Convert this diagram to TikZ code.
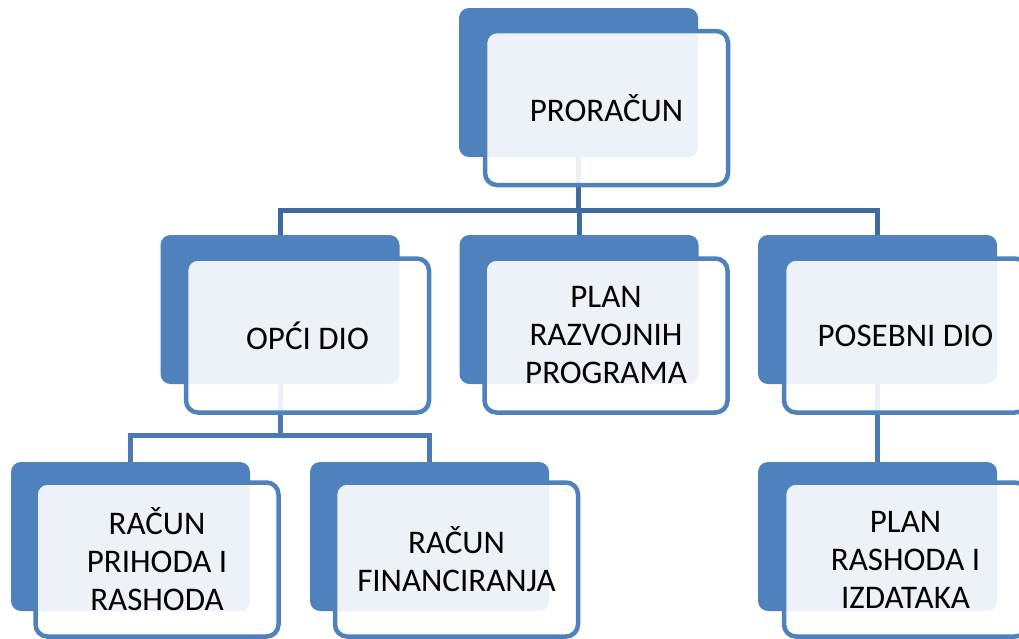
\documentclass[tikz,border=0pt]{standalone}
\usepackage{fontspec}
\setmainfont{Carlito}
\definecolor{boxblue}{HTML}{4F81BD}
\definecolor{lineA}{HTML}{3F6A9E}
\definecolor{lineB}{HTML}{4A79B6}
\newcommand{\boxtext}[4]{%
  \begin{scope}
    \clip (#2.north west) rectangle (#2.east |- #3.south);
    \node[boxlabel] (#1) at (#2) {#4};
  \end{scope}}
\begin{document}
\begin{tikzpicture}[x=1pt,y=-1pt,
  backbox/.style={draw=none, fill=boxblue, rounded corners=10pt, minimum width=239pt, minimum height=149pt, inner sep=0pt, outer sep=0pt},
  frontbox/.style={draw=boxblue, line width=4.5pt, fill=white, fill opacity=0.9, rounded corners=12pt, minimum width=243pt, minimum height=154pt, inner sep=0pt, outer sep=0pt},
  boxlabel/.style={font=\fontsize{33}{38}\selectfont, align=center, text=black, inner sep=0pt},
  connA/.style={draw=lineA, line width=5pt},
  connB/.style={draw=lineB, line width=5pt}]
\useasboundingbox (0,0) rectangle (1019,638);
\clip (0,0) rectangle (1019,638);

% back boxes (positions only, drawn after connectors)
\path (578.5,82.5) node[backbox, fill=none] (b1) {};
\path (280,309.5) node[backbox, fill=none] (b2) {};
\path (579,309.5) node[backbox, fill=none] (b3) {};
\path (877.5,309.5) node[backbox, fill=none] (b4) {};
\path (130.5,536.5) node[backbox, fill=none] (b5) {};
\path (429.5,536.5) node[backbox, fill=none] (b6) {};
\path (877.5,536.5) node[backbox, fill=none] (b7) {};

% connectors
\coordinate (j1) at (578.5,210);
\coordinate (j2) at (280,435);
\draw[connA] (b1.south) -- (j1);
\draw[connA] (b2.north) |- (j1);
\draw[connA] (b4.north) |- (j1);
\draw[connA] (b3.north) -- (b3.north |- j1);
\draw[connB] (b2.south) -- (j2);
\draw[connB] (b5.north) |- (j2);
\draw[connB] (b6.north) |- (j2);
\draw[connB] (b4.south) -- (b7.north);

% back boxes filled
\foreach \n in {b1,b2,b3,b4,b5,b6,b7}{
  \fill[boxblue, rounded corners=10pt] (\n.north west) rectangle (\n.south east);
}

% front boxes
\node[frontbox] (f1) at (606.5,108) {};
\node[frontbox] (f2) at (307.5,335.5) {};
\node[frontbox] (f3) at (606,335.5) {};
\node[frontbox] (f4) at (905.5,335.5) {};
\node[frontbox] (f5) at (157,559.5) {};
\node[frontbox] (f6) at (456.5,559.5) {};
\node[frontbox] (f7) at (905.5,559.5) {};

% texts
\boxtext{t1}{f1}{b1}{PRORAČUN}
\boxtext{t2}{f2}{b2}{OPĆI DIO}
\boxtext{t3}{f3}{b3}{PLAN\\RAZVOJNIH\\PROGRAMA}
\boxtext{t4}{f4}{b4}{POSEBNI DIO}
\boxtext{t5}{f5}{b5}{RAČUN\\PRIHODA I\\RASHODA}
\boxtext{t6}{f6}{b6}{RAČUN\\FINANCIRANJA}
\boxtext{t7}{f7}{b7}{PLAN\\RASHODA I\\IZDATAKA}
\end{tikzpicture}
\end{document}
